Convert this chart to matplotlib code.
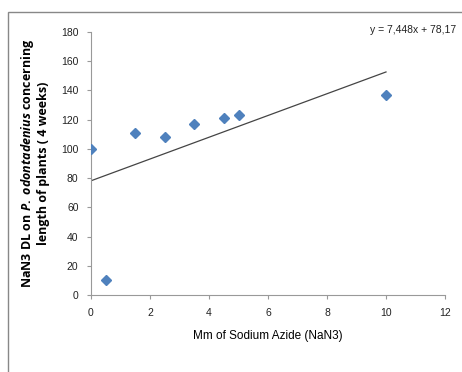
import matplotlib
matplotlib.use("Agg")
import matplotlib.pyplot as plt
from matplotlib.patches import Rectangle

plt.rcParams['font.family'] = ['Liberation Sans', 'DejaVu Sans']
plt.rcParams['mathtext.fontset'] = 'custom'
plt.rcParams['mathtext.it'] = 'Open Sans:italic:bold'
plt.rcParams['mathtext.rm'] = 'Open Sans:bold'

dose = [0, 0.5, 1.5, 2.5, 3.5, 4.5, 5, 10]
length = [100, 10, 111, 108, 117, 121, 123, 137]
slope = 7.448
intercept = 78.17
fit_x = [0, 10]
fit_y = [intercept + slope * x for x in fit_x]

fig = plt.figure(figsize=(4.62, 3.72), dpi=100)
fig.patches.append(Rectangle((8 / 462, -0.1), 1.1, (372 - 12) / 372 + 0.1,
                             transform=fig.transFigure, fill=False,
                             edgecolor='#888888', linewidth=1.0))
ax = fig.add_axes([91 / 462, (372 - 295) / 372, (445 - 91) / 462, (295 - 32) / 372])

ax.plot(dose, length, linestyle='none', marker='D', markersize=5.5,
        color='#4F81BD', zorder=3)
ax.plot(fit_x, fit_y, color='#444444', linewidth=0.9)

ax.set_xlim(0, 12)
ax.set_ylim(0, 180)
ax.set_xticks(range(0, 13, 2))
ax.set_yticks(range(0, 181, 20))
for s in ['top', 'right']:
    ax.spines[s].set_visible(False)
for s in ['left', 'bottom']:
    ax.spines[s].set_color('#999999')
    ax.spines[s].set_linewidth(0.8)
ax.tick_params(direction='out', length=3, color='#999999', labelsize=7.5,
               labelcolor='#222222', pad=6)

ax.set_xlabel('Mm of Sodium Azide (NaN3)', fontsize=8.5, labelpad=9)
ax.set_ylabel('NaN3 DL on $\\mathit{P.\\ odontadenius}$ concerning\nlength of plants ( 4 weeks)',
              fontsize=9, fontweight='bold', family='Open Sans', labelpad=8,
              linespacing=1.1)

fig.text(413 / 462, 1 - 30 / 372, 'y = 7,448x + 78,17', fontsize=7.5,
         ha='center', va='center', color='#222222')

fig.savefig('out.png', dpi=100)
